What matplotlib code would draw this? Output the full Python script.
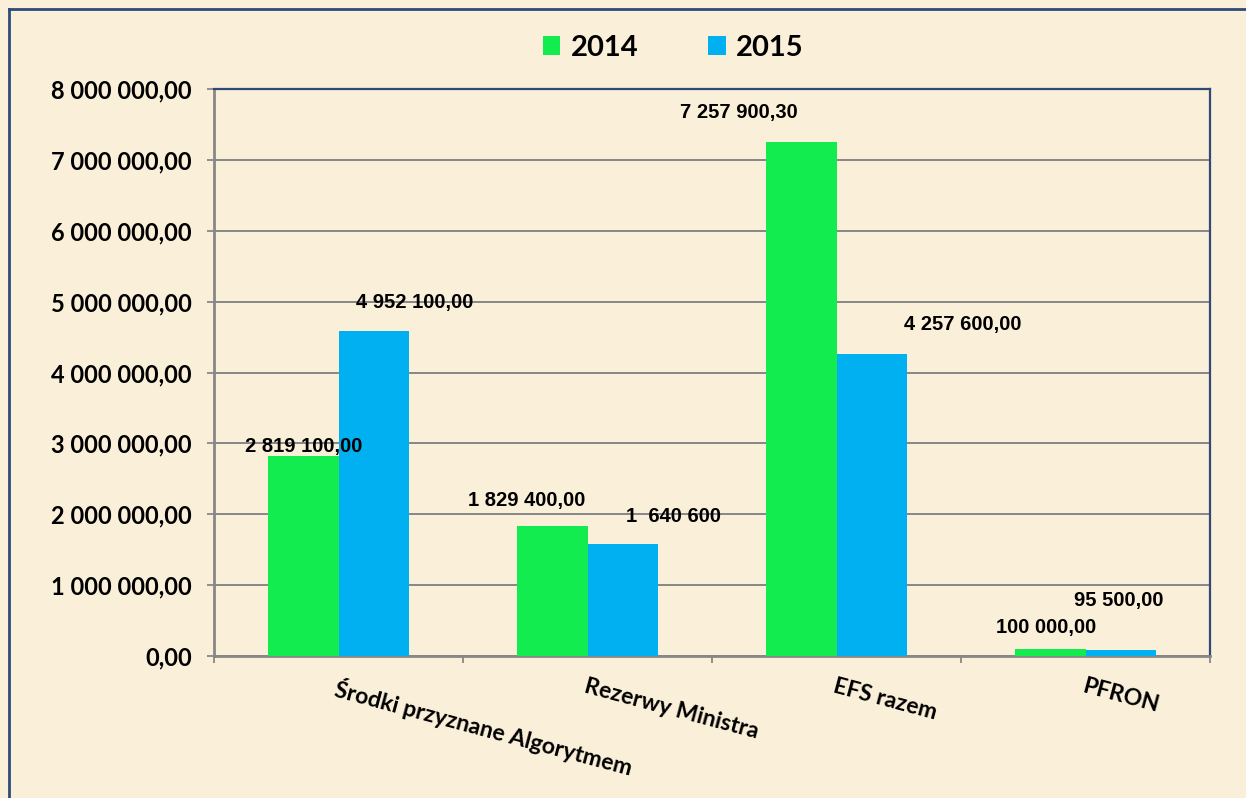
import matplotlib
matplotlib.use("Agg")
import matplotlib.pyplot as plt
from matplotlib.lines import Line2D
from matplotlib.ticker import FixedLocator
import numpy as np

# ---- data ----
categories = ["Środki przyznane Algorytmem", "Rezerwy Ministra", "EFS razem", "PFRON"]
series_names = ["2014", "2015"]
values_2014 = [2819100.00, 1829400.00, 7257900.30, 100000.00]
values_2015 = [4585000.00, 1580000.00, 4257600.00, 85000.00]
labels_2014 = ["2 819 100,00", "1 829 400,00", "7 257 900,30", "100 000,00"]
labels_2015 = ["4 952 100,00", "1  640 600", "4 257 600,00", "95 500,00"]
y_ticks = [0, 1000000, 2000000, 3000000, 4000000, 5000000, 6000000, 7000000, 8000000]
y_tick_labels = ["0,00", "1 000 000,00", "2 000 000,00", "3 000 000,00", "4 000 000,00",
                 "5 000 000,00", "6 000 000,00", "7 000 000,00", "8 000 000,00"]

# ---- style ----
W, H, DPI = 1246, 798, 100
BG = "#FAEFD8"
GREEN = "#13EC4F"
BLUE = "#00B0F0"
GRID = "#878787"
FRAME = "#2E4A7A"
# label offsets in pixels (dx, dy) relative to bar top-center
off_2014 = [(1, 10), (-25, 26), (-62, 29), (-4, 21)]
off_2015 = [(41, 29), (51, 28), (91, 30), (-2, 49)]

fig = plt.figure(figsize=(W / DPI, H / DPI), dpi=DPI, facecolor=BG)
ax = fig.add_axes([214 / W, 1 - 656 / H, (1210 - 214) / W, (656 - 89) / H])
ax.set_facecolor("none")

x = np.arange(len(categories))
bw = 0.285
b1 = ax.bar(x - bw / 2, values_2014, bw, color=GREEN, zorder=3, label=series_names[0])
b2 = ax.bar(x + bw / 2, values_2015, bw, color=BLUE, zorder=3, label=series_names[1])

ax.set_xlim(-0.5, len(categories) - 0.5)
ax.set_ylim(0, 8000000)

# y axis
ax.set_yticks(y_ticks)
ax.set_yticklabels(y_tick_labels, fontfamily="Lato", fontweight="bold", fontsize=17)
ax.tick_params(axis="y", direction="out", length=5, width=1.3, color=GRID, pad=11)
ax.yaxis.grid(True, color=GRID, linewidth=1.4, zorder=0)
ax.set_axisbelow(True)

# x axis
ax.set_xticks(x)
ax.set_xticklabels(categories, fontfamily="Lato", fontweight="bold", fontsize=16.5,
                   rotation=-15, ha="left", va="top", rotation_mode="anchor")
ax.tick_params(axis="x", which="major", length=0, pad=14)
ax.xaxis.set_minor_locator(FixedLocator(np.arange(len(categories) + 1) - 0.5))
ax.tick_params(axis="x", which="minor", direction="out", length=5, width=1.3, color=GRID)

for s in ["left", "bottom"]:
    ax.spines[s].set_color(GRID)
    ax.spines[s].set_linewidth(2)
for s in ["top", "right"]:
    ax.spines[s].set_color(FRAME)
    ax.spines[s].set_linewidth(1.6)

# data labels
pt = 72.0 / DPI
for bars, labs, offs in ((b1, labels_2014, off_2014), (b2, labels_2015, off_2015)):
    for rect, lab, (dx, dy) in zip(bars, labs, offs):
        ax.annotate(lab, (rect.get_x() + rect.get_width() / 2, rect.get_height()),
                    xytext=(dx * pt, dy * pt), textcoords="offset points",
                    ha="center", va="center", fontfamily="Liberation Sans",
                    fontweight="bold", fontsize=14.5, zorder=5, annotation_clip=False)

# legend
leg = fig.legend(handles=[b1, b2], labels=series_names, loc="center",
                 bbox_to_anchor=(673 / W, 1 - 48 / H), ncol=2, frameon=False,
                 prop={"family": "Lato", "weight": "bold", "size": 21},
                 handlelength=0.6, handleheight=0.6, handletextpad=0.35,
                 columnspacing=2.4)

# outer frame (only top and left edges are visible; cropped on right/bottom)
fx, fy = 8.5 / W, 1 - 8.5 / H
fig.add_artist(Line2D([fx, 1.0], [fy, fy], transform=fig.transFigure,
                      color=FRAME, linewidth=2))
fig.add_artist(Line2D([fx, fx], [0.0, fy], transform=fig.transFigure,
                      color=FRAME, linewidth=2))

fig.savefig("out.png", dpi=DPI, facecolor=BG)
